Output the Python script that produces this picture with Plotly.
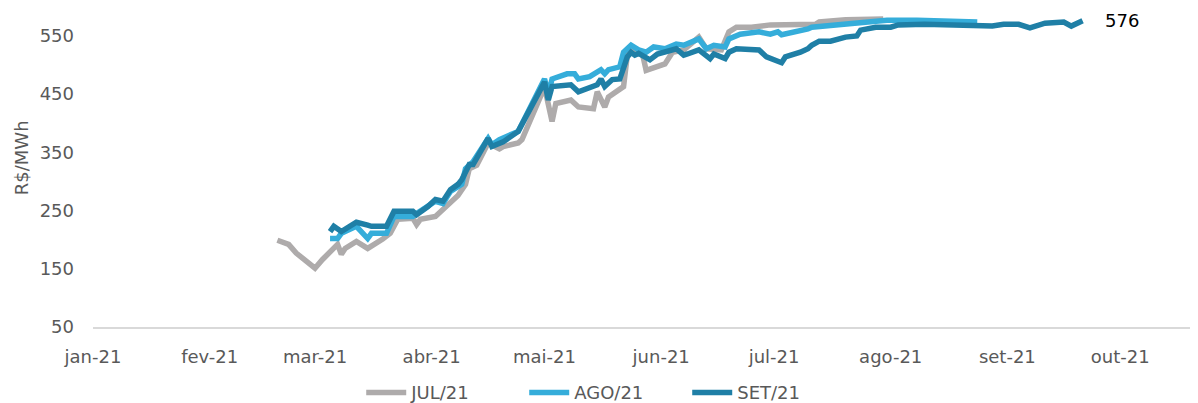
import plotly.graph_objects as go

# JUL/21
jul_dates = ["2021-02-19", "2021-02-22", "2021-02-24", "2021-03-01", "2021-03-03", "2021-03-06",
             "2021-03-07", "2021-03-08", "2021-03-09", "2021-03-12", "2021-03-15", "2021-03-19",
             "2021-03-21", "2021-03-23", "2021-03-27", "2021-03-28", "2021-03-29", "2021-04-02",
             "2021-04-04", "2021-04-08", "2021-04-10", "2021-04-11", "2021-04-13", "2021-04-16",
             "2021-04-19", "2021-04-20", "2021-04-24", "2021-04-25", "2021-05-01", "2021-05-03",
             "2021-05-04", "2021-05-08", "2021-05-10", "2021-05-14", "2021-05-15", "2021-05-17",
             "2021-05-18", "2021-05-21", "2021-05-22", "2021-05-23", "2021-05-24", "2021-05-26",
             "2021-05-27", "2021-05-28", "2021-05-31", "2021-06-02", "2021-06-04", "2021-06-07",
             "2021-06-11", "2021-06-13", "2021-06-17", "2021-06-19", "2021-06-21", "2021-06-25",
             "2021-06-30", "2021-07-12", "2021-07-13", "2021-07-20", "2021-07-30"]
jul_vals = [199, 192, 177, 151, 166, 185,
            192, 175, 185, 197, 185, 201,
            211, 235, 237, 226, 235, 240,
            252, 276, 295, 322, 328, 366,
            356, 360, 366, 372, 462, 403,
            434, 440, 428, 425, 454, 428,
            445, 459, 463, 517, 531, 522,
            520, 491, 497, 502, 522, 526,
            548, 528, 526, 557, 565, 565,
            569, 570, 574, 578, 579]

# AGO/21
ago_dates = ["2021-03-05", "2021-03-07", "2021-03-08", "2021-03-12", "2021-03-15", "2021-03-16",
             "2021-03-20", "2021-03-22", "2021-03-27", "2021-03-28", "2021-04-02", "2021-04-04",
             "2021-04-06", "2021-04-09", "2021-04-10", "2021-04-11", "2021-04-12", "2021-04-16",
             "2021-04-17", "2021-04-19", "2021-04-24", "2021-05-01", "2021-05-02", "2021-05-03",
             "2021-05-07", "2021-05-09", "2021-05-10", "2021-05-13", "2021-05-16", "2021-05-17",
             "2021-05-18", "2021-05-21", "2021-05-22", "2021-05-24", "2021-05-26", "2021-05-28",
             "2021-05-30", "2021-06-02", "2021-06-05", "2021-06-07", "2021-06-11", "2021-06-13",
             "2021-06-15", "2021-06-18", "2021-06-19", "2021-06-22", "2021-06-27", "2021-06-30",
             "2021-07-02", "2021-07-03", "2021-07-07", "2021-07-10", "2021-07-11", "2021-07-18",
             "2021-07-31", "2021-08-08", "2021-08-24"]
ago_vals = [202, 202, 211, 223, 202, 211,
            211, 240, 240, 245, 266, 262,
            283, 295, 322, 329, 334, 374,
            363, 372, 386, 476, 450, 476,
            485, 485, 476, 480, 492, 485,
            492, 497, 522, 534, 526, 522,
            531, 528, 536, 534, 545, 528,
            534, 531, 545, 553, 557, 553,
            557, 552, 557, 562, 565, 570,
            577, 577, 574]

# SET/21
set_dates = ["2021-03-05", "2021-03-06", "2021-03-08", "2021-03-12", "2021-03-15", "2021-03-16",
             "2021-03-20", "2021-03-22", "2021-03-27", "2021-03-28", "2021-03-31", "2021-04-02",
             "2021-04-04", "2021-04-06", "2021-04-08", "2021-04-09", "2021-04-11", "2021-04-12",
             "2021-04-16", "2021-04-17", "2021-04-20", "2021-04-24", "2021-05-01", "2021-05-02",
             "2021-05-03", "2021-05-08", "2021-05-10", "2021-05-15", "2021-05-16", "2021-05-17",
             "2021-05-19", "2021-05-21", "2021-05-23", "2021-05-24", "2021-05-25", "2021-05-26",
             "2021-05-29", "2021-05-31", "2021-06-05", "2021-06-07", "2021-06-08", "2021-06-11",
             "2021-06-14", "2021-06-15", "2021-06-18", "2021-06-19", "2021-06-21", "2021-06-27",
             "2021-06-29", "2021-07-03", "2021-07-04", "2021-07-07", "2021-07-08", "2021-07-10",
             "2021-07-11", "2021-07-13", "2021-07-16", "2021-07-20", "2021-07-23", "2021-07-24",
             "2021-07-28", "2021-08-01", "2021-08-03", "2021-08-10", "2021-08-16", "2021-08-21",
             "2021-08-28", "2021-08-31", "2021-09-04", "2021-09-07", "2021-09-09", "2021-09-11",
             "2021-09-16", "2021-09-18", "2021-09-21"]
set_vals = [214, 223, 214, 230, 225, 223,
            223, 249, 249, 243, 257, 269,
            266, 286, 295, 303, 329, 329,
            374, 360, 368, 386, 471, 440,
            463, 466, 454, 466, 476, 463,
            475, 476, 514, 522, 517, 520,
            509, 519, 528, 517, 519, 526,
            511, 519, 511, 522, 528, 526,
            514, 504, 514, 519, 522, 528,
            534, 541, 541, 548, 550, 560,
            565, 565, 569, 570, 569, 570,
            567, 570, 570, 564, 567, 572,
            574, 567, 576]

tick_vals = ["2021-01-01", "2021-02-01", "2021-03-01", "2021-04-01", "2021-05-01",
             "2021-06-01", "2021-07-01", "2021-08-01", "2021-09-01", "2021-10-01"]
tick_text = ["jan-21", "fev-21", "mar-21", "abr-21", "mai-21",
             "jun-21", "jul-21", "ago-21", "set-21", "out-21"]

fnt = "DejaVu Sans, sans-serif"

fig = go.Figure()

series = [
    ("JUL/21", jul_dates, jul_vals, "#AEABAB"),
    ("AGO/21", ago_dates, ago_vals, "#35ADDA"),
    ("SET/21", set_dates, set_vals, "#1F7FA6"),
]
for name, xs, ys, col in series:
    fig.add_trace(go.Scatter(
        x=xs, y=ys, mode="lines", name=name,
        line=dict(color=col, width=5.5),
    ))

# rótulo do último valor
fig.add_annotation(
    x=set_dates[-1], y=set_vals[-1], text=str(set_vals[-1]),
    showarrow=False, xanchor="left", xshift=20,
    font=dict(family=fnt, size=18, color="#000000"),
)

# título do eixo y
fig.add_annotation(
    xref="paper", yref="paper", x=-0.064, y=0.53,
    text="R$/MWh", textangle=-90, showarrow=False,
    xanchor="center", yanchor="middle",
    font=dict(family=fnt, size=18, color="#595959"),
)

# a página tem 8px de margem no body: figura um pouco menor
fig.update_layout(
    width=1190, height=395,
    margin=dict(l=85, r=0, t=0, b=76, autoexpand=False),
    plot_bgcolor="white", paper_bgcolor="white",
    font=dict(family=fnt, size=18, color="#595959"),
    showlegend=True,
    legend=dict(
        orientation="h",
        x=0.464, y=-0.206, xanchor="center", yanchor="middle",
        font=dict(size=18, color="#595959"),
        itemwidth=40, entrywidth=108, tracegroupgap=0,
    ),
    xaxis=dict(
        range=["2021-01-01", "2021-10-21 16:00"],
        tickvals=tick_vals, ticktext=tick_text,
        showgrid=False, zeroline=False,
        showline=True, linecolor="#D9D9D9", linewidth=1.5,
        ticks="", ticklabelstandoff=13,
    ),
    yaxis=dict(
        range=[50, 598],
        tickvals=[50, 150, 250, 350, 450, 550],
        showgrid=False, zeroline=False, showline=False,
        ticks="", ticklabelstandoff=18,
    ),
)

fig.write_html("out.html")
